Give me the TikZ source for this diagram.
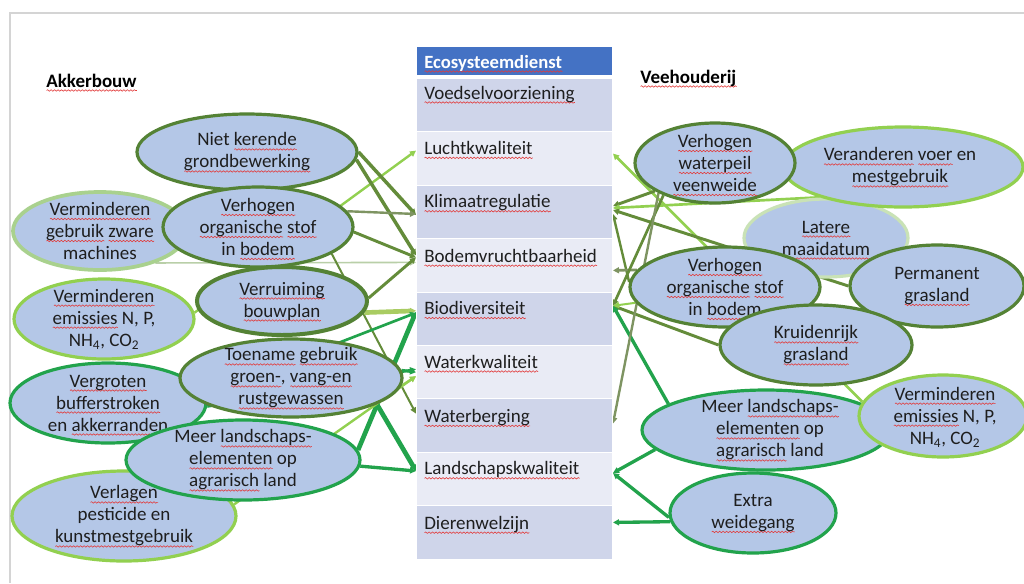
\documentclass[tikz,border=0pt]{standalone}
\usepackage{fontspec}
\setmainfont{Carlito}
\usetikzlibrary{shapes.geometric,arrows.meta,calc,decorations.pathmorphing}
\definecolor{cFill}{HTML}{B4C7E7}
\definecolor{cOlive}{HTML}{548235}
\definecolor{cOliveL}{HTML}{648C3A}
\definecolor{cGrayOl}{HTML}{7E9462}
\definecolor{cGreen}{HTML}{22A34C}
\definecolor{cLime}{HTML}{92D050}
\definecolor{cPale}{HTML}{A9D18E}
\definecolor{cFaint}{HTML}{B9CFA8}
\definecolor{cVPale}{HTML}{C9E2B6}
\definecolor{cYel}{HTML}{A9CC62}
\definecolor{cRowD}{HTML}{CFD5EA}
\definecolor{cRowL}{HTML}{E9EBF5}
\definecolor{cHead}{HTML}{4472C4}
\definecolor{cTxt}{HTML}{1E1E1E}
\definecolor{cFrame}{HTML}{D4D4D4}
\definecolor{cSpell}{HTML}{E23B3B}
\newlength\sqw
\newcommand\sq[1]{\settowidth\sqw{#1}\leavevmode\rlap{\smash{\tikz[baseline=0pt]\draw[cSpell, line width=0.45pt, decorate, decoration={snake, amplitude=0.55pt, segment length=2.6pt}] (0pt,-2.6pt) -- (\sqw,-2.6pt);}}#1}
\pgfdeclarelayer{back}
\pgfdeclarelayer{lines}
\pgfsetlayers{back,lines,main}
\tikzset{
  ell/.style={ellipse, draw, fill=cFill, line width=2.4pt, inner sep=0pt},
  etx/.style={align=center, text=cTxt, font=\fontsize{14.25}{16.5}\selectfont, inner sep=0pt},
  rowbox/.style={rectangle, draw=white, line width=0.75pt, minimum width=147pt, minimum height=40.05pt, anchor=north west, inner sep=0pt},
  rtx/.style={anchor=base west, text=cTxt, font=\fontsize{14.25}{16.5}\selectfont, inner sep=0pt},
  side/.style={anchor=base west, text=black, font=\bfseries\fontsize{14.25}{16.5}\selectfont, inner sep=0pt},
  con/.style={-{Triangle[length=4.5pt,width=4.5pt]}, line cap=butt},
}
\begin{document}
\begin{tikzpicture}[x=0.75pt,y=-0.75pt]
\begin{pgfonlayer}{back}
\fill[white] (0,0) rectangle (1024,583);
\end{pgfonlayer}
\useasboundingbox (0,0) rectangle (1024,583);
\draw[cFrame, line width=1pt] (10,583) -- (10,13) -- (1024,13);

% side titles
\node[side] (akk) at (46,87) {\sq{Akkerbouw}};
\node[side] (vee) at (640,83) {\sq{Veehouderij}};

% table
\node[rowbox, fill=cHead, minimum height=21.75pt] (r0) at (416,46) {};
\node[anchor=base west, text=white, font=\bfseries\fontsize{14}{16}\selectfont, inner sep=0pt] (t0) at (424,68) {\sq{Ecosysteemdienst}};
\node[rowbox, fill=cRowD] (r1) at (416,78) {};
\node[rowbox, fill=cRowL] (r2) at (416,131.4) {};
\node[rowbox, fill=cRowD] (r3) at (416,184.8) {};
\node[rowbox, fill=cRowL] (r4) at (416,238.2) {};
\node[rowbox, fill=cRowD] (r5) at (416,291.6) {};
\node[rowbox, fill=cRowL] (r6) at (416,345) {};
\node[rowbox, fill=cRowD] (r7) at (416,398.4) {};
\node[rowbox, fill=cRowL] (r8) at (416,451.8) {};
\node[rowbox, fill=cRowD] (r9) at (416,505.2) {};
\node[rtx] (t1) at ($(r1.north west)+(8,21)$) {\sq{Voedselvoorziening}};
\node[rtx] (t2) at ($(r2.north west)+(8,23)$) {\sq{Luchtkwaliteit}};
\node[rtx] (t3) at ($(r3.north west)+(8,23)$) {\sq{Klimaatregulatie}};
\node[rtx] (t4) at ($(r4.north west)+(8,24)$) {\sq{Bodemvruchtbaarheid}};
\node[rtx] (t5) at ($(r5.north west)+(8,23)$) {\sq{Biodiversiteit}};
\node[rtx] (t6) at ($(r6.north west)+(8,23)$) {\sq{Waterkwaliteit}};
\node[rtx] (t7) at ($(r7.north west)+(8,24)$) {\sq{Waterberging}};
\node[rtx] (t8) at ($(r8.north west)+(8,23)$) {\sq{Landschapskwaliteit}};
\node[rtx] (t9) at ($(r9.north west)+(8,24)$) {\sq{Dierenwelzijn}};

% left ellipses
\node[ell, draw=cOlive, minimum width=165pt, minimum height=57pt] (nk) at (247,152) {};
\node[etx] (nkt) at (nk) {Niet \sq{kerende}\\\sq{grondbewerking}};
\node[ell, draw=cPale, line width=2.8pt, minimum width=130.5pt, minimum height=58.5pt] (zm) at (100,231) {};
\node[etx] (zmt) at (zm) {\sq{Verminderen}\\\sq{gebruik} \sq{zware}\\machines};
\node[ell, draw=cOlive, minimum width=142.5pt, minimum height=60pt] (vo) at (258,227) {};
\node[etx] (vot) at (vo) {\sq{Verhogen}\\\sq{organische} \sq{stof}\\in \sq{bodem}};
\node[ell, draw=cLime, minimum width=135pt, minimum height=60pt] (ve) at (104,319) {};
\node[etx] (vet) at (ve) {\sq{Verminderen}\\\sq{emissies} N, P,\\NH\textsubscript{4}, CO\textsubscript{2}};
\node[ell, draw=cOlive, line width=3pt, minimum width=127.5pt, minimum height=51pt] (vb) at (282,301) {};
\node[etx] (vbt) at (vb) {\sq{Verruiming}\\\sq{bouwplan}};
\node[ell, draw=cGreen, minimum width=147pt, minimum height=60pt] (vg) at (108,403) {};
\node[etx] (vgt) at (vg) {\sq{Vergroten}\\\sq{bufferstroken}\\en \sq{akkerranden}};
\node[ell, draw=cOlive, minimum width=166.5pt, minimum height=58.5pt] (tg) at (291,378) {};
\node[etx] (tgt) at (tg) {\sq{Toename} \sq{gebruik}\\\sq{groen-}, \sq{vang-en}\\\sq{rustgewassen}};
\node[ell, draw=cLime, minimum width=168pt, minimum height=67.5pt] (vp) at (124,516) {};
\node[etx] (vpt) at (vp) {\sq{Verlagen}\\pesticide en\\\sq{kunstmestgebruik}};
\node[ell, draw=cGreen, minimum width=175.5pt, minimum height=60pt] (ml) at (243,460) {};
\node[etx] (mlt) at (ml) {Meer \sq{landschaps-}\\\sq{elementen} op\\\sq{agrarisch} land};

% right ellipses
\node[ell, draw=cVPale, minimum width=123pt, minimum height=58.5pt] (lm) at (826,238) {};
\node[etx] (lmt) at (lm) {\sq{Latere}\\\sq{maaidatum}};
\node[ell, draw=cLime, minimum width=180pt, minimum height=60pt] (vv) at (903,167) {};
\node[etx] (vvt) at (900,167) {\sq{Veranderen} \sq{voer} en\\\sq{mestgebruik}};
\node[ell, draw=cOlive, minimum width=120pt, minimum height=60pt] (wp) at (715,163) {};
\node[etx] (wpt) at (wp) {\sq{Verhogen}\\\sq{waterpeil}\\\sq{veenweide}};
\node[ell, draw=cOlive, minimum width=142.5pt, minimum height=60pt] (vo2) at (725,287) {};
\node[etx] (vo2t) at (vo2) {\sq{Verhogen}\\\sq{organische} \sq{stof}\\in \sq{bodem}};
\node[ell, draw=cOlive, minimum width=130.5pt, minimum height=61.5pt] (pg) at (937,286) {};
\node[etx] (pgt) at (pg) {Permanent\\\sq{grasland}};
\node[ell, draw=cOlive, minimum width=144pt, minimum height=60pt] (kg) at (816,345) {};
\node[etx] (kgt) at (kg) {\sq{Kruidenrijk}\\\sq{grasland}};
\node[ell, draw=cGreen, minimum width=186pt, minimum height=60pt] (ml2) at (766,430) {};
\node[etx] (ml2t) at (770,430) {Meer \sq{landschaps-}\\\sq{elementen} op\\\sq{agrarisch} land};
\node[ell, draw=cLime, minimum width=126pt, minimum height=61.5pt] (ve2) at (943,416) {};
\node[etx] (ve2t) at (945,417) {\sq{Verminderen}\\\sq{emissies} N, P,\\NH\textsubscript{4}, CO\textsubscript{2}};
\node[ell, draw=cGreen, minimum width=124.5pt, minimum height=60pt] (ew) at (753,513) {};
\node[etx] (ewt) at (ew) {Extra\\\sq{weidegang}};

% connectors
\begin{pgfonlayer}{lines}
% left side
\draw[con, cLime, line width=1.8pt] (ve.4) -- ($(r2.west)+(0,-8)$);
\draw[con, cFaint, line width=1.2pt] (zm.-30) -- ($(r4.west)+(0,-3)$);
\draw[con, cOliveL, line width=2.6pt] (nk.0) -- ($(r3.west)+(0,3)$);
\draw[con, cOliveL, line width=2.6pt] (nk.-4) -- ($(r4.west)+(0,-10)$);
\draw[con, cGrayOl, line width=1.8pt] (vo.10) -- ($(r3.west)+(0,2)$);
\draw[con, cOliveL, line width=2.2pt] (vo.-3) -- ($(r4.west)+(0,-8)$);
\draw[con, cOliveL, line width=1.5pt] (vo.-20) -- ($(r7.west)+(0,-12)$);
\draw[con, cOliveL, line width=2.2pt] (vb.2) -- ($(r4.west)+(0,-8)$);
\draw[con, cYel, line width=3.5pt] (vb.-8) -- ($(r5.west)+(0,-8)$);
\draw[con, cGreen, line width=2pt] (vg.5) -- ($(r5.west)+(0,-6)$);
\draw[con, cGreen, line width=2pt] (vg.-2) -- ($(r6.west)+(0,-3)$);
\draw[con, cGreen, line width=2.2pt] (tg.4) -- ($(r6.west)+(0,0)$);
\draw[con, cYel, line width=1.8pt] (tg.-4) -- ($(r6.west)+(0,4)$);
\draw[con, cGreen, line width=3.5pt] (ml.5) -- ($(r5.west)+(0,-7)$);
\draw[con, cGreen, line width=3.5pt] (tg.-17) -- ($(r8.west)+(0,-8)$);
\draw[con, cGreen, line width=2.5pt] (ml.-3) -- ($(r8.west)+(0,-8)$);
\draw[con, cLime, line width=1.8pt] (vp.6) -- ($(r6.west)+(0,4)$);
% right side
\draw[con, cLime, line width=2pt] (ve2.170) -- ($(r2.east)+(0,-5)$);
\draw[con, cOliveL, line width=2.2pt] (wp.205) -- ($(r3.east)+(0,-6)$);
\draw[con, cLime, line width=2pt] (vv.200) -- ($(r3.east)+(0,-4)$);
\draw[con, cOliveL, line width=2.2pt] (pg.180) -- ($(r3.east)+(0,-2)$);
\draw[con, cOliveL, line width=1.8pt] (vo2.177) -- ($(r3.east)+(0,2)$);
\draw[con, cGrayOl, line width=2pt] (vo2.169) -- ($(r4.east)+(0,5)$);
\draw[con, cOliveL, line width=2pt] (wp.212) -- ($(r5.east)+(0,-13)$);
\draw[con, cOliveL, line width=2.2pt] (kg.180) -- ($(r5.east)+(0,-13)$);
\draw[con, cGreen, line width=2.5pt] (ml2.165) -- ($(r5.east)+(0,-13)$);
\draw[con, cLime, line width=1.5pt] (vo2.190) -- ($(r5.east)+(0,-13)$);
\draw[con, cGrayOl, line width=1.8pt] (wp.208) -- ($(r7.east)+(0,-2)$);
\draw[con, cGreen, line width=2.5pt] (ml2.190) -- ($(r8.east)+(0,-6)$);
\draw[con, cGreen, line width=2.5pt] (ew.183) -- ($(r8.east)+(0,-6)$);
\draw[con, cGreen, line width=2.5pt] (ew.186) -- ($(r9.east)+(0,-10)$);
\end{pgfonlayer}
\end{tikzpicture}
\end{document}
